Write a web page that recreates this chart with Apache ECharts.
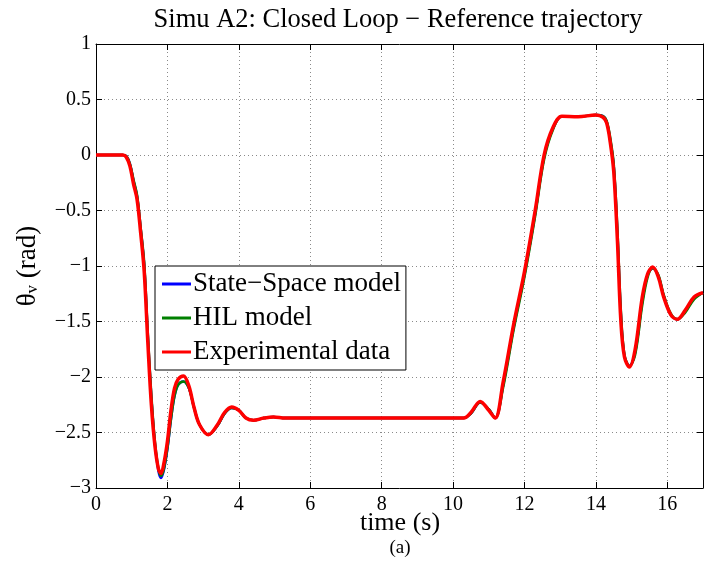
<!DOCTYPE html>
<html>
<head>
<meta charset="utf-8">
<script src="https://cdn.jsdelivr.net/npm/echarts@6/dist/echarts.min.js"></script>
<style>
html,body{margin:0;padding:0;background:#fff;}
#chart{width:705px;height:577px;}
</style>
</head>
<body>
<div id="chart"></div>
<script>
// ---- data ----
const titleText = 'Simu A2: Closed Loop \u2212 Reference trajectory';
const xName = 'time (s)';
const caption = '(a)';
const seriesNames = ['State\u2212Space model', 'HIL model', 'Experimental data'];
const xTicks = [0, 2, 4, 6, 8, 10, 12, 14, 16];
const yTicks = [-3, -2.5, -2, -1.5, -1, -0.5, 0, 0.5, 1];

const time = [0, 0.5, 0.75, 0.85, 0.95, 1.05, 1.15, 1.25, 1.35, 1.45,
  1.55, 1.65, 1.75, 1.82, 1.9, 2.0, 2.1, 2.2, 2.3, 2.45,
  2.6, 2.75, 2.9, 3.15, 3.4, 3.6, 3.8, 4.0, 4.2, 4.41,
  4.7, 4.97, 5.3, 6, 8, 10, 10.3, 10.5, 10.76, 11.0,
  11.18, 11.4, 11.7, 12.0, 12.3, 12.55, 12.8, 13.05, 13.5, 14.0,
  14.2, 14.3, 14.4, 14.5, 14.6, 14.7, 14.8, 14.94, 15.1, 15.3,
  15.45, 15.59, 15.75, 15.9, 16.1, 16.28, 16.5, 16.75, 17];

const stateSpace = [0, 0, 0, -0.01, -0.08, -0.23, -0.37, -0.66, -0.99, -1.62,
  -2.18, -2.6, -2.85, -2.91, -2.84, -2.65, -2.38, -2.17, -2.07, -2.04,
  -2.1, -2.28, -2.43, -2.52, -2.44, -2.33, -2.28, -2.3, -2.37, -2.39,
  -2.37, -2.36, -2.37, -2.37, -2.37, -2.37, -2.37, -2.33, -2.23, -2.29,
  -2.37, -2.08, -1.55, -1.08, -0.53, -0.02, 0.24, 0.35, 0.345, 0.36,
  0.35, 0.3, 0.14, -0.1, -0.68, -1.43, -1.81, -1.9, -1.78, -1.32,
  -1.08, -1.02, -1.09, -1.27, -1.44, -1.48, -1.41, -1.29, -1.24];

const hil = [0, 0, 0, -0.01, -0.08, -0.22, -0.36, -0.65, -0.97, -1.6,
  -2.16, -2.58, -2.83, -2.89, -2.83, -2.64, -2.38, -2.17, -2.07, -2.04,
  -2.1, -2.28, -2.43, -2.52, -2.44, -2.33, -2.28, -2.3, -2.37, -2.39,
  -2.37, -2.36, -2.37, -2.37, -2.37, -2.37, -2.37, -2.33, -2.23, -2.29,
  -2.37, -2.1, -1.57, -1.1, -0.55, -0.04, 0.23, 0.35, 0.345, 0.36,
  0.35, 0.31, 0.16, -0.08, -0.65, -1.4, -1.8, -1.9, -1.8, -1.35,
  -1.1, -1.02, -1.08, -1.26, -1.43, -1.48, -1.42, -1.3, -1.24];

const experimental = [0, 0, 0, -0.02, -0.1, -0.26, -0.4, -0.7, -1.05, -1.68,
  -2.25, -2.62, -2.83, -2.87, -2.78, -2.58, -2.3, -2.1, -2.02, -1.99,
  -2.08, -2.28, -2.43, -2.52, -2.43, -2.32, -2.27, -2.3, -2.37, -2.39,
  -2.37, -2.36, -2.37, -2.37, -2.37, -2.37, -2.37, -2.32, -2.22, -2.3,
  -2.37, -2.05, -1.52, -1.05, -0.5, 0.0, 0.25, 0.35, 0.345, 0.36,
  0.34, 0.29, 0.12, -0.15, -0.75, -1.5, -1.82, -1.91, -1.75, -1.28,
  -1.07, -1.01, -1.1, -1.28, -1.44, -1.48, -1.4, -1.28, -1.24];

const colors = ['#0000ff', '#008000', '#ff0000'];
const widths = [2.5, 2.5, 3.5];

// ---- chart ----
const FONT = 'Liberation Serif';
const fmt = v => String(v).replace('-', '\u2212');
const pair = vals => time.map((t, i) => [t, vals[i]]);
const chart = echarts.init(document.getElementById('chart'), null, {renderer: 'canvas'});

const gridLeft = 96, gridTop = 44, gridRight = 703, gridBottom = 488;

const baseX = {
  type: 'value', min: 0, max: 17, interval: 2,
  axisLine: {show: true, onZero: false, lineStyle: {color: '#000', width: 1}},
  axisTick: {show: true, inside: true, length: 6, lineStyle: {color: '#000'}},
  splitLine: {show: false}
};
const baseY = {
  type: 'value', min: -3, max: 1, interval: 0.5,
  axisLine: {show: true, onZero: false, lineStyle: {color: '#000', width: 1}},
  axisTick: {show: true, inside: true, length: 6, lineStyle: {color: '#000'}},
  splitLine: {show: false}
};

const data = [stateSpace, hil, experimental];
const labelRich = {n: {fontFamily: FONT, fontSize: 20, color: '#000'}};

chart.setOption({
  animation: false,
  backgroundColor: '#fff',
  textStyle: {fontFamily: FONT},
  grid: {left: gridLeft, top: gridTop, width: gridRight - gridLeft, height: gridBottom - gridTop, containLabel: false},
  xAxis: [
    Object.assign({}, baseX, {
      position: 'bottom',
      axisLabel: {show: true, margin: 7, color: '#000', fontFamily: FONT, fontSize: 20, showMaxLabel: false,
        rich: labelRich,
        formatter: v => xTicks.includes(v) ? '{n|' + fmt(v) + '}' : ''},
      splitLine: {show: true, lineStyle: {color: '#8a8a8a', type: [1, 3], width: 1}}
    }),
    Object.assign({}, baseX, {position: 'top', axisLabel: {show: false}})
  ],
  yAxis: [
    Object.assign({}, baseY, {
      position: 'left',
      axisLabel: {show: true, margin: 5, color: '#000', fontFamily: FONT, fontSize: 20,
        rich: labelRich,
        formatter: v => yTicks.includes(v) ? '{n|' + fmt(v) + '}' : ''},
      splitLine: {show: true, lineStyle: {color: '#8a8a8a', type: [1, 3], width: 1}}
    }),
    Object.assign({}, baseY, {position: 'right', axisLabel: {show: false}})
  ],
  legend: {
    show: true,
    orient: 'vertical',
    left: 155, top: 266,
    padding: [3, 5, 3, 7],
    itemGap: 4,
    itemWidth: 29, itemHeight: 3,
    backgroundColor: '#fff',
    borderColor: '#000', borderWidth: 1, borderRadius: 0,
    textStyle: {color: '#000', fontFamily: FONT, fontSize: 27, lineHeight: 30, padding: [0, 0, 0, -3]},
    data: seriesNames.map((n, i) => ({name: n, icon: 'rect', itemStyle: {color: colors[i]}}))
  },
  series: seriesNames.map((n, i) => ({
    name: n,
    type: 'line',
    data: pair(data[i]),
    showSymbol: false,
    symbol: 'none',
    smooth: 0.35,
    z: 2 + i,
    lineStyle: {color: colors[i], width: widths[i]},
    itemStyle: {color: colors[i]}
  })),
  graphic: [
    {type: 'text', x: 398, y: 20, style: {text: titleText, fill: '#000', font: '26.5px "Liberation Serif"', align: 'center', verticalAlign: 'middle'}},
    {type: 'text', x: 400, y: 523, style: {text: xName, fill: '#000', font: '26px "Liberation Serif"', align: 'center', verticalAlign: 'middle'}},
    {type: 'text', x: 400, y: 548, style: {text: caption, fill: '#000', font: '19px "Liberation Serif"', align: 'center', verticalAlign: 'middle'}},
    {type: 'text', x: 28, y: 266, rotation: Math.PI / 2,
      style: {
        text: '{t|\u03b8}{s|v}{t| (rad)}',
        fill: '#000', align: 'center', verticalAlign: 'middle',
        rich: {
          t: {fontFamily: FONT, fontSize: 27, lineHeight: 27, padding: [0, 0, 10, 0], verticalAlign: 'top', fill: '#000'},
          s: {fontFamily: FONT, fontSize: 17, lineHeight: 17, verticalAlign: 'bottom', fill: '#000'}
        }
      }}
  ]
});
</script>
</body>
</html>
